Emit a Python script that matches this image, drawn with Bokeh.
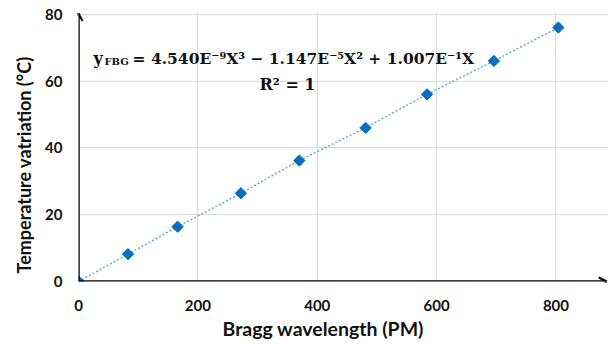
import math
from bokeh.plotting import figure
from bokeh.models import Arrow, OpenHead, Label, FixedTicker, ColumnDataSource, Title
from bokeh.embed import file_html
from bokeh.resources import INLINE

# Data
bragg_pm = [0, 83, 166, 272, 370, 481, 584, 696, 804]
temp_c = [0, 8.2, 16.4, 26.4, 36.2, 46.0, 56.0, 66.0, 76.0]
x_ticks = [0, 200, 400, 600, 800]
y_ticks = [0, 20, 40, 60, 80]
x_title = "Bragg wavelength (PM)"
y_title = "Temperature vatriation (°C)"
eq_main = "= 4.540E⁻⁹X³ − 1.147E⁻⁵X² + 1.007E⁻¹X"
eq_r2 = "R² = 1"

FONT = "Lato"
SERIF = "DejaVu Serif"

p = figure(width=608, height=345, output_backend="svg", toolbar_location=None,
           x_range=(0, 888), y_range=(0, 80.5),
           min_border_left=78, min_border_right=0, min_border_top=12, min_border_bottom=64)
p.outline_line_color = None
p.background_fill_color = "white"
p.border_fill_color = "white"

for ax in (p.xaxis, p.yaxis):
    ax.axis_line_color = None
    ax.major_tick_line_color = None
    ax.minor_tick_line_color = None
    ax.major_tick_out = 0
    ax.major_tick_in = 0
    ax.major_label_text_font = FONT
    ax.major_label_text_font_style = "bold"
    ax.major_label_text_font_size = "15px"
    ax.major_label_text_color = "#111111"
p.xaxis.ticker = FixedTicker(ticks=x_ticks)
p.yaxis.ticker = FixedTicker(ticks=y_ticks)
p.xaxis.major_label_standoff = 18
p.yaxis.major_label_standoff = 16

p.xgrid.ticker = FixedTicker(ticks=x_ticks[1:])
p.ygrid.ticker = FixedTicker(ticks=y_ticks[1:])
p.grid.grid_line_color = "#D9D9D9"
p.grid.grid_line_width = 1

# axis titles as side titles (offset from the frame start)
p.add_layout(Title(text=x_title, align="left", offset=144, text_font=FONT,
                   text_font_style="bold", text_font_size="19.5px", text_color="#111111",
                   standoff=2), "below")
p.add_layout(Title(text=y_title, align="left", offset=8, text_font=FONT,
                   text_font_style="bold", text_font_size="18px", text_color="#111111",
                   standoff=16), "left")

src = ColumnDataSource(dict(x=bragg_pm, y=temp_c))
p.line("x", "y", source=src, line_color="#5B9BD5", line_width=1.3, line_dash="2 2")

# axes with arrows
p.add_layout(Arrow(x_start=0, y_start=0, x_end=885, y_end=0, line_width=2.5, line_color="black",
                   end=OpenHead(size=8, line_width=2, line_color="black")))
p.add_layout(Arrow(x_start=0, y_start=0, x_end=0, y_end=80.3, line_width=2.5, line_color="black",
                   end=OpenHead(size=8, line_width=2, line_color="black")))

p.scatter("x", "y", source=src, marker="square", angle=math.pi / 4, size=8,
          fill_color="#0070C0", line_color="#0070C0")

# equation (screen units relative to the plot frame, origin bottom-left)
FB = 281  # frame bottom in page pixels
p.add_layout(Label(x=15, y=FB - 58, x_units="screen", y_units="screen", text="y",
                   text_font=SERIF, text_font_style="bold", text_font_size="16px",
                   text_baseline="alphabetic", text_color="#111111"))
p.add_layout(Label(x=26, y=FB - 61, x_units="screen", y_units="screen", text="FBG",
                   text_font=SERIF, text_font_style="bold", text_font_size="10px",
                   text_baseline="alphabetic", text_color="#111111"))
p.add_layout(Label(x=54, y=FB - 58, x_units="screen", y_units="screen", text=eq_main,
                   text_font=SERIF, text_font_style="bold", text_font_size="15.5px",
                   text_baseline="alphabetic", text_color="#111111"))
p.add_layout(Label(x=209, y=FB - 84, x_units="screen", y_units="screen", text=eq_r2,
                   text_font=SERIF, text_font_style="bold", text_font_size="16px",
                   text_align="center", text_baseline="alphabetic", text_color="#111111"))

open("out.html", "w").write(file_html(p, INLINE))
